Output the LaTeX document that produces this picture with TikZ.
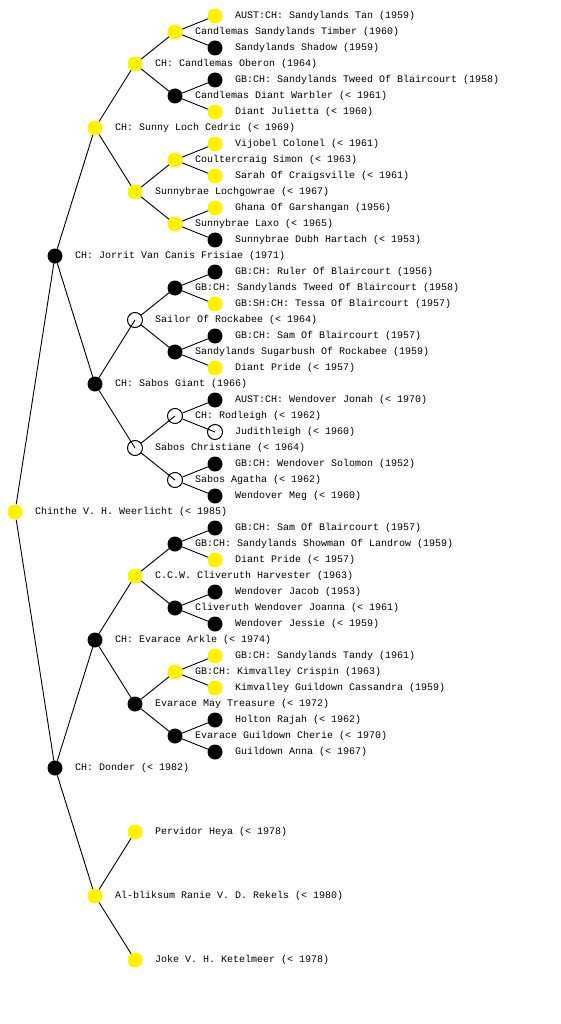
\documentclass[tikz,border=0pt]{standalone}
\usepackage{fontspec}
\setmonofont{Liberation Mono}
\usetikzlibrary{backgrounds}
\tikzset{
  dot/.style={circle, minimum size=15pt, inner sep=0pt},
  yel/.style={dot, fill=yellow},
  blk/.style={dot, fill=black},
  opn/.style={dot, draw=black, line width=1pt},
  lbl/.style={anchor=west, inner sep=0pt, font=\ttfamily\fontsize{10}{10}\selectfont},
  link/.style={line width=0.9pt, black}
}
\newcommand\pnode[5]{\node[#2] (#1) at (#3,#4) {}; \node[lbl] (#1t) at (#3+20,#4) {#5};}
\newcommand\plink[2]{\draw[link] (#1) -- (#2.center);}
\begin{document}
\begin{tikzpicture}[x=1pt,y=-1pt]
\useasboundingbox (0,0) rectangle (560,1024);
% generation 0
\pnode{r}{yel}{15}{512}{Chinthe V. H. Weerlicht (< 1985)}
% generation 1
\pnode{a}{blk}{55}{256}{CH: Jorrit Van Canis Frisiae (1971)}
\pnode{b}{blk}{55}{768}{CH: Donder (< 1982)}
% generation 2
\pnode{aa}{yel}{95}{128}{CH: Sunny Loch Cedric (< 1969)}
\pnode{ab}{blk}{95}{384}{CH: Sabos Giant (1966)}
\pnode{ba}{blk}{95}{640}{CH: Evarace Arkle (< 1974)}
\pnode{bb}{yel}{95}{896}{Al-bliksum Ranie V. D. Rekels (< 1980)}
% generation 3
\pnode{aaa}{yel}{135}{64}{CH: Candlemas Oberon (1964)}
\pnode{aab}{yel}{135}{192}{Sunnybrae Lochgowrae (< 1967)}
\pnode{aba}{opn}{135}{320}{Sailor Of Rockabee (< 1964)}
\pnode{abb}{opn}{135}{448}{Sabos Christiane (< 1964)}
\pnode{baa}{yel}{135}{576}{C.C.W. Cliveruth Harvester (1963)}
\pnode{bab}{blk}{135}{704}{Evarace May Treasure (< 1972)}
\pnode{bba}{yel}{135}{832}{Pervidor Heya (< 1978)}
\pnode{bbb}{yel}{135}{960}{Joke V. H. Ketelmeer (< 1978)}
% generation 4
\pnode{aaaa}{yel}{175}{32}{Candlemas Sandylands Timber (1960)}
\pnode{aaab}{blk}{175}{96}{Candlemas Diant Warbler (< 1961)}
\pnode{aaba}{yel}{175}{160}{Coultercraig Simon (< 1963)}
\pnode{aabb}{yel}{175}{224}{Sunnybrae Laxo (< 1965)}
\pnode{abaa}{blk}{175}{288}{GB:CH: Sandylands Tweed Of Blaircourt (1958)}
\pnode{abab}{blk}{175}{352}{Sandylands Sugarbush Of Rockabee (1959)}
\pnode{abba}{opn}{175}{416}{CH: Rodleigh (< 1962)}
\pnode{abbb}{opn}{175}{480}{Sabos Agatha (< 1962)}
\pnode{baaa}{blk}{175}{544}{GB:CH: Sandylands Showman Of Landrow (1959)}
\pnode{baab}{blk}{175}{608}{Cliveruth Wendover Joanna (< 1961)}
\pnode{baba}{yel}{175}{672}{GB:CH: Kimvalley Crispin (1963)}
\pnode{babb}{blk}{175}{736}{Evarace Guildown Cherie (< 1970)}
% generation 5
\pnode{aaaaa}{yel}{215}{16}{AUST:CH: Sandylands Tan (1959)}
\pnode{aaaab}{blk}{215}{48}{Sandylands Shadow (1959)}
\pnode{aaaba}{blk}{215}{80}{GB:CH: Sandylands Tweed Of Blaircourt (1958)}
\pnode{aaabb}{yel}{215}{112}{Diant Julietta (< 1960)}
\pnode{aabaa}{yel}{215}{144}{Vijobel Colonel (< 1961)}
\pnode{aabab}{yel}{215}{176}{Sarah Of Craigsville (< 1961)}
\pnode{aabba}{yel}{215}{208}{Ghana Of Garshangan (1956)}
\pnode{aabbb}{blk}{215}{240}{Sunnybrae Dubh Hartach (< 1953)}
\pnode{abaaa}{blk}{215}{272}{GB:CH: Ruler Of Blaircourt (1956)}
\pnode{abaab}{yel}{215}{304}{GB:SH:CH: Tessa Of Blaircourt (1957)}
\pnode{ababa}{blk}{215}{336}{GB:CH: Sam Of Blaircourt (1957)}
\pnode{ababb}{yel}{215}{368}{Diant Pride (< 1957)}
\pnode{abbaa}{blk}{215}{400}{AUST:CH: Wendover Jonah (< 1970)}
\pnode{abbab}{opn}{215}{432}{Judithleigh (< 1960)}
\pnode{abbba}{blk}{215}{464}{GB:CH: Wendover Solomon (1952)}
\pnode{abbbb}{blk}{215}{496}{Wendover Meg (< 1960)}
\pnode{baaaa}{blk}{215}{528}{GB:CH: Sam Of Blaircourt (1957)}
\pnode{baaab}{yel}{215}{560}{Diant Pride (< 1957)}
\pnode{baaba}{blk}{215}{592}{Wendover Jacob (1953)}
\pnode{baabb}{blk}{215}{624}{Wendover Jessie (< 1959)}
\pnode{babaa}{yel}{215}{656}{GB:CH: Sandylands Tandy (1961)}
\pnode{babab}{yel}{215}{688}{Kimvalley Guildown Cassandra (1959)}
\pnode{babba}{blk}{215}{720}{Holton Rajah (< 1962)}
\pnode{babbb}{blk}{215}{752}{Guildown Anna (< 1967)}
\begin{scope}[on background layer]
\plink{r}{a}\plink{r}{b}
\plink{a}{aa}\plink{a}{ab}\plink{b}{ba}\plink{b}{bb}
\plink{aa}{aaa}\plink{aa}{aab}\plink{ab}{aba}\plink{ab}{abb}
\plink{ba}{baa}\plink{ba}{bab}\plink{bb}{bba}\plink{bb}{bbb}
\plink{aaa}{aaaa}\plink{aaa}{aaab}\plink{aab}{aaba}\plink{aab}{aabb}
\plink{aba}{abaa}\plink{aba}{abab}\plink{abb}{abba}\plink{abb}{abbb}
\plink{baa}{baaa}\plink{baa}{baab}\plink{bab}{baba}\plink{bab}{babb}
\plink{aaaa}{aaaaa}\plink{aaaa}{aaaab}\plink{aaab}{aaaba}\plink{aaab}{aaabb}
\plink{aaba}{aabaa}\plink{aaba}{aabab}\plink{aabb}{aabba}\plink{aabb}{aabbb}
\plink{abaa}{abaaa}\plink{abaa}{abaab}\plink{abab}{ababa}\plink{abab}{ababb}
\plink{abba}{abbaa}\plink{abba}{abbab}\plink{abbb}{abbba}\plink{abbb}{abbbb}
\plink{baaa}{baaaa}\plink{baaa}{baaab}\plink{baab}{baaba}\plink{baab}{baabb}
\plink{baba}{babaa}\plink{baba}{babab}\plink{babb}{babba}\plink{babb}{babbb}
\end{scope}
\end{tikzpicture}
\end{document}
